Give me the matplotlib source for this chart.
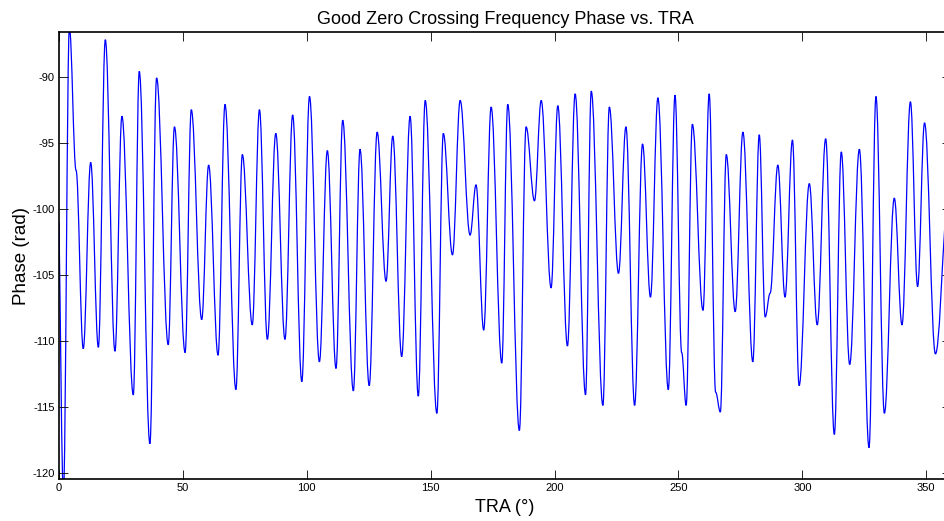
import numpy as np
import matplotlib
matplotlib.use('Agg')
import matplotlib.pyplot as plt
from matplotlib.path import Path
from matplotlib.patches import PathPatch

plt.rcParams['font.family'] = ['Liberation Sans', 'DejaVu Sans']
plt.rcParams['axes.unicode_minus'] = False

# turning points of the phase curve
tra = [0, 1.8, 4.2, 6.9, 9.8, 12.8, 15.9, 18.7, 22.6, 25.4, 30.0, 32.4, 36.7, 39.4,
       44.1, 46.6, 50.9, 53.4, 57.6, 60.4, 64.2, 67.0, 71.4, 74.0, 78.0, 80.9,
       84.1, 87.5, 91.2, 94.3, 98.0, 101.1, 105.1, 108.3, 111.8, 114.5, 118.8,
       121.5, 125.2, 128.4, 132.0, 134.7, 138.3, 141.7, 145.0, 147.8, 152.5,
       155.1, 158.8, 161.9, 165.9, 168.3, 171.4, 174.4, 178.7, 181.1, 185.8,
       188.5, 191.9, 194.6, 198.6, 201.3, 205.2, 208.3, 212.5, 214.8, 219.5,
       222.1, 225.8, 228.8, 232.3, 235.5, 238.7, 241.7, 245.9, 248.6, 251.3,
       253.1, 255.6, 259.9, 262.4, 265.0, 266.9, 269.3, 272.9, 276.0, 280.0,
       282.6, 285.0, 287.0, 290.1, 293.0, 296.0, 298.7, 302.8, 306.0, 309.4,
       312.9, 315.7, 319.1, 323.0, 326.9, 329.7, 333.1, 337.1, 340.2, 343.6,
       346.5, 349.3, 353.7, 357.7]
phase = [-101.0, -121.5, -86.3, -97.1, -110.6, -96.5, -110.5, -87.2, -110.8, -93.0,
         -114.1, -89.6, -117.8, -90.1, -110.3, -93.8, -110.9, -92.5, -108.4, -96.7,
         -111.1, -92.1, -113.7, -95.9, -108.8, -92.5, -109.9, -94.3, -109.9, -92.9,
         -113.1, -91.5, -111.6, -95.6, -112.1, -93.3, -113.8, -95.5, -113.4, -94.2,
         -105.5, -94.5, -111.2, -93.0, -114.2, -91.8, -115.5, -94.3, -103.5, -91.8,
         -102.0, -98.2, -109.2, -92.3, -111.7, -92.1, -116.8, -93.8, -99.4, -91.8,
         -106.0, -92.2, -110.4, -91.3, -114.1, -91.1, -114.9, -92.3, -104.9, -93.8,
         -114.9, -95.1, -106.7, -91.6, -113.7, -91.4, -110.9, -114.9, -93.6, -107.7,
         -91.3, -113.9, -115.4, -95.9, -107.8, -94.2, -111.6, -94.4, -108.2, -106.4,
         -96.7, -106.7, -94.8, -113.4, -98.1, -108.8, -94.7, -117.1, -95.7, -111.8,
         -95.5, -118.1, -91.5, -115.5, -99.2, -108.8, -91.9, -105.9, -93.5, -111.0,
         -100.7]

xticks = [0, 50, 100, 150, 200, 250, 300, 350]
yticks = [-120, -115, -110, -105, -100, -95, -90]

fig = plt.figure(figsize=(9.45, 5.21), dpi=100)
ax = fig.add_axes([0.0624, 0.080, 0.944, 0.858])

# smooth curve through the turning points (flat tangent at each one)
verts = [(tra[0], phase[0])]
codes = [Path.MOVETO]
n = len(tra)
for i in range(n - 1):
    x0, y0 = tra[i], phase[i]
    x1, y1 = tra[i + 1], phase[i + 1]
    dx = x1 - x0
    if i == 0:
        c1 = (x0 + dx / 3, y0 + (y1 - y0) / 3)
    else:
        c1 = (x0 + 0.38 * dx, y0)
    if i == n - 2:
        c2 = (x1 - dx / 3, y1 - (y1 - y0) / 3)
    else:
        c2 = (x1 - 0.38 * dx, y1)
    verts += [c1, c2, (x1, y1)]
    codes += [Path.CURVE4, Path.CURVE4, Path.CURVE4]

ax.add_patch(PathPatch(Path(verts, codes), fill=False, edgecolor='#0000ff', lw=0.9))

ax.set_xlim(0, 360)
ax.set_ylim(-120.5, -86.64)
ax.set_xticks(xticks)
ax.set_yticks(yticks)
ax.tick_params(direction='in', length=6.5, width=0.6, top=True, right=True,
               labelsize=8, pad=3)
for s in ax.spines.values():
    s.set_linewidth(1.2)

ax.set_title('Good Zero Crossing Frequency Phase vs. TRA', fontsize=13, pad=6)
ax.set_xlabel('TRA (°)', fontsize=13, labelpad=4)
ax.set_ylabel('Phase (rad)', fontsize=13.5, labelpad=2)

fig.savefig('out.png', dpi=100)
